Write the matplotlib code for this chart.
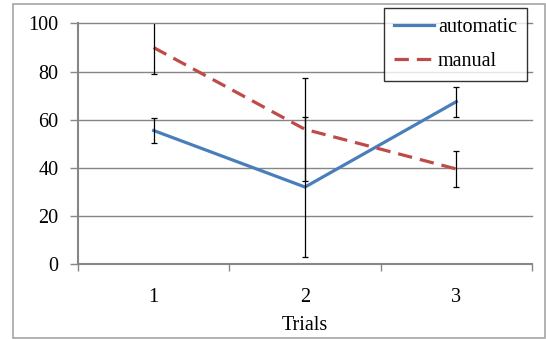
import matplotlib
matplotlib.use("Agg")
import matplotlib.pyplot as plt
from matplotlib.patches import Rectangle

trials = [1, 2, 3]
tick_labels = ["1", "2", "3"]
automatic = [55.5, 32, 67.5]
automatic_err = [5, 29, 6.3]
manual = [90, 56, 39.5]
manual_err = [11, 21.5, 7.5]

plt.rcParams['font.family'] = ['Liberation Serif', 'DejaVu Serif']

fig = plt.figure(figsize=(5.46, 3.39), dpi=100)
ax = fig.add_axes([78/546, 1-264/339, (532-78)/546, (264-23.5)/339])

fig.patches.append(Rectangle((13/546, 1-338/339), (545-13)/546, (338-4)/339,
                             transform=fig.transFigure, fill=False,
                             edgecolor='#a6a6a6', linewidth=1.2))

gray = '#868686'
ax.plot(trials, automatic, color='#4a7ebb', lw=2.3, label='automatic', zorder=3)
ax.plot(trials, manual, color='#be4b48', lw=2.3, linestyle=(0, (4.5, 2.5)),
        label='manual', zorder=3)
ax.errorbar(trials, automatic, yerr=automatic_err, fmt='none', ecolor='black',
            elinewidth=0.9, capsize=2.3, capthick=0.9, zorder=4)
ax.errorbar(trials, manual, yerr=manual_err, fmt='none', ecolor='black',
            elinewidth=0.9, capsize=2.3, capthick=0.9, zorder=4)

ax.set_xlim(0.5, 3.5)
ax.set_ylim(0, 100)
ax.set_yticks([0, 20, 40, 60, 80, 100])
ax.set_xticks(trials)
ax.set_xticklabels(tick_labels)
ax.set_xticks([0.5, 1.5, 2.5, 3.5], minor=True)
fs = 14.5
ax.tick_params(axis='x', which='major', length=0, pad=17, labelsize=fs)
ax.tick_params(axis='x', which='minor', length=5, color=gray, width=1)
ax.tick_params(axis='y', length=6, color=gray, width=1, labelsize=fs, pad=8)
for y in [20, 40, 60, 80, 100]:
    ax.axhline(y, color=gray, lw=1, zorder=1, clip_on=False)
for s in ['top', 'right']:
    ax.spines[s].set_visible(False)
for s in ['left', 'bottom']:
    ax.spines[s].set_color(gray)
    ax.spines[s].set_linewidth(1.5)
ax.set_xlabel('Trials', fontsize=fs, labelpad=7)

leg = ax.legend(loc='upper right', bbox_to_anchor=(527/546, 1-8/339),
                bbox_transform=fig.transFigure, fontsize=fs, frameon=True,
                fancybox=False, edgecolor='black', handlelength=2.0,
                borderpad=0.5, labelspacing=0.75, handletextpad=0.2,
                borderaxespad=0)
leg.get_frame().set_linewidth(1)

fig.savefig('out.png', dpi=100)
